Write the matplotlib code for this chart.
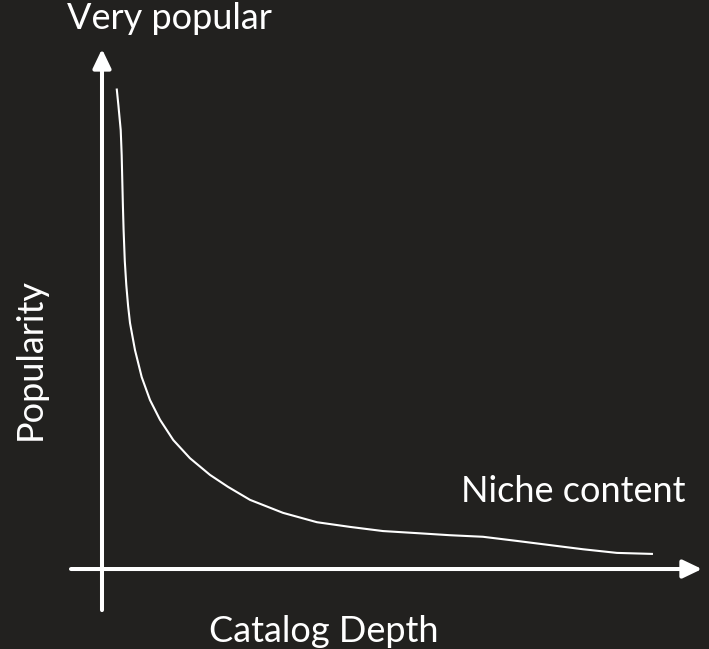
import matplotlib
matplotlib.use("Agg")
import matplotlib.pyplot as plt

# Long-tail curve: catalog depth (x, 0-100) vs popularity (y, 0-100)
depth = [2.45, 2.73, 3.12, 3.28, 3.38, 3.48, 3.6, 3.8, 4.05, 4.35, 4.67, 5.5, 6.62, 8.0,
         9.67, 11.88, 14.67, 18.0, 21.0, 24.67, 30.17, 35.83, 41.33, 46.83,
         52.5, 58.0, 63.5, 69.17, 74.67, 80.17, 85.83, 91.83]
popularity = [92.4, 89.2, 84.4, 79.6, 74.8, 70.0, 65.2, 59.2, 54.6, 50.6, 47.3, 42.1, 36.9, 32.5,
              28.7, 24.8, 21.3, 18.1, 15.8, 13.3, 10.8, 9.0, 8.1, 7.3,
              6.9, 6.5, 6.2, 5.4, 4.6, 3.8, 3.1, 2.9]

x_label = "Catalog Depth"
y_label = "Popularity"
top_label = "Very popular"
tail_label = "Niche content"

BG = "#22211f"
FG = "white"

plt.rcParams['font.family'] = ['Lato', 'DejaVu Sans']

fig = plt.figure(figsize=(7.09, 6.49), dpi=100, facecolor=BG)
ax = fig.add_axes([0, 0, 1, 1])
ax.set_facecolor(BG)
ax.set_xlim(-17.0, 101.17)
ax.set_ylim(-15.38, 109.42)
ax.axis("off")

# axes with arrows
arrow_style = "-|>,head_length=1.15,head_width=0.55"
ax.annotate("", xy=(0, 100), xytext=(0, -7.9),
            arrowprops=dict(arrowstyle=arrow_style, lw=2.9, color=FG,
                            mutation_scale=10, shrinkA=0, shrinkB=0))
ax.annotate("", xy=(100, 0), xytext=(-5.17, 0),
            arrowprops=dict(arrowstyle=arrow_style, lw=2.9, color=FG,
                            mutation_scale=10, shrinkA=0, shrinkB=0))

ax.plot(depth, popularity, color=FG, lw=1.5, solid_capstyle="butt",
        solid_joinstyle="round")

fs = 26
ax.text(-5.83, 103.8, top_label, color=FG, fontsize=fs, ha="left", va="baseline")
ax.text(-12.0, 40.4, y_label, color=FG, fontsize=fs, ha="center", va="center",
        rotation=90)
ax.text(37.0, -14.04, x_label, color=FG, fontsize=fs, ha="center", va="baseline")
ax.text(97.33, 12.9, tail_label, color=FG, fontsize=fs, ha="right", va="baseline")

fig.savefig("out.png", dpi=100, facecolor=BG)
